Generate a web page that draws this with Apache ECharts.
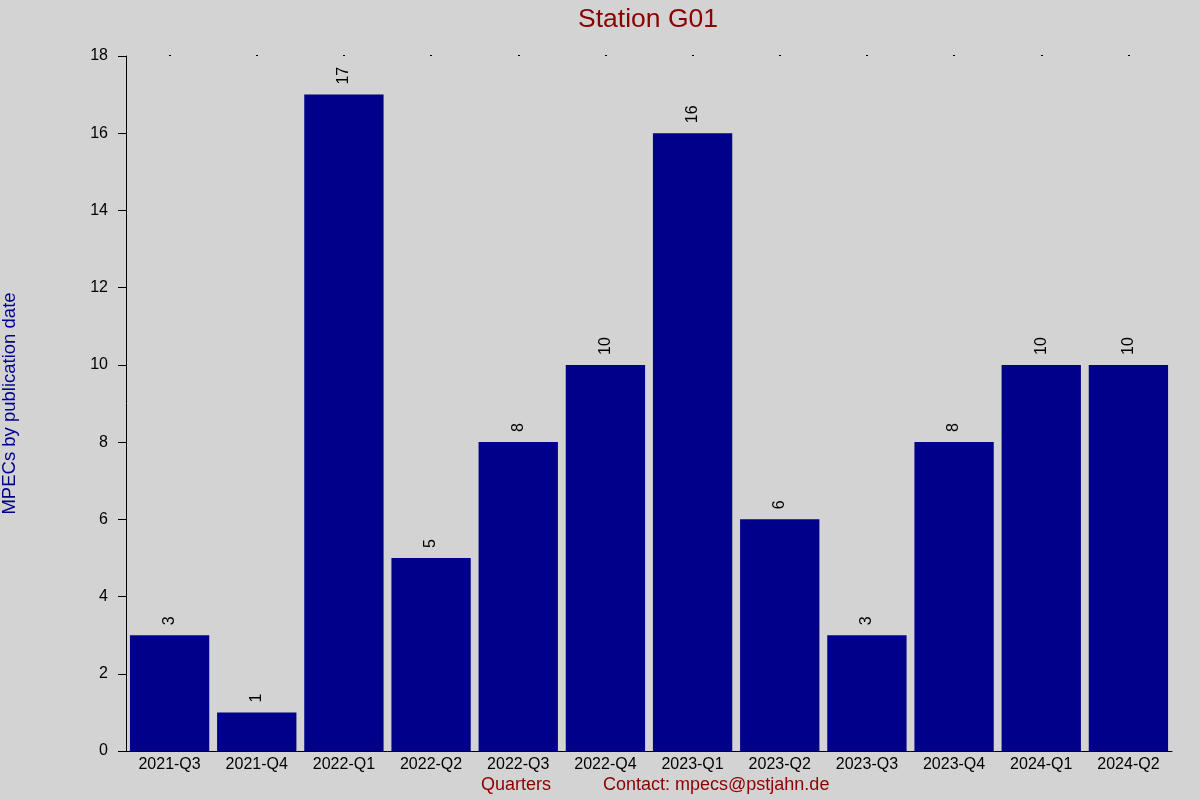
<!DOCTYPE html>
<html>
<head>
<meta charset="utf-8">
<script src="https://cdn.jsdelivr.net/npm/echarts@6/dist/echarts.min.js"></script>
<style>
html,body{margin:0;padding:0;background:#d3d3d3;}
#chart{width:1200px;height:800px;}
</style>
</head>
<body>
<div id="chart"></div>
<script>
const categories = ['2021-Q3','2021-Q4','2022-Q1','2022-Q2','2022-Q3','2022-Q4','2023-Q1','2023-Q2','2023-Q3','2023-Q4','2024-Q1','2024-Q2'];
const values = [3,1,17,5,8,10,16,6,3,8,10,10];
const yTicks = {min:0, max:18, interval:2};
const titleText = 'Station G01';
const yName = 'MPECs by publication date';
const xName = 'Quarters';
const contactText = 'Contact: mpecs@pstjahn.de';

const FONT = 'Liberation Sans, Arial, sans-serif';
const chart = echarts.init(document.getElementById('chart'), null, {renderer:'canvas'});
chart.setOption({
  backgroundColor:'#d3d3d3',
  animation:false,
  textStyle:{fontFamily:FONT},
  title:[
    {text:titleText, left:648, top:6, textAlign:'center', padding:0,
     textStyle:{color:'#8b0000', fontSize:26.5, fontWeight:'normal', fontFamily:FONT}},
    {text:xName, left:516, top:776, textAlign:'center', padding:0,
     textStyle:{color:'#8b0000', fontSize:18, fontWeight:'normal', fontFamily:FONT}},
    {text:contactText, left:603, top:776, padding:0,
     textStyle:{color:'#8b0000', fontSize:18, fontWeight:'normal', fontFamily:FONT}}
  ],
  grid:{left:126, right:28, top:56, bottom:49, containLabel:false, outerBoundsMode:'none'},
  xAxis:[
    {type:'category', data:categories, position:'bottom',
     axisLine:{show:true, lineStyle:{color:'#000', width:1}},
     axisTick:{show:false},
     axisLabel:{color:'#000', fontSize:16, margin:6, fontFamily:FONT, interval:0},
     splitLine:{show:false}},
    {type:'category', data:categories, position:'top',
     axisLine:{show:false},
     axisTick:{show:true, alignWithLabel:true, length:1, lineStyle:{color:'#000', width:2}},
     axisLabel:{show:false},
     splitLine:{show:false}}
  ],
  yAxis:{
    type:'value', min:yTicks.min, max:yTicks.max, interval:yTicks.interval,
    name:yName, nameLocation:'middle', nameGap:107, nameRotate:90,
    nameTextStyle:{color:'#00008b', fontSize:18.5, fontFamily:FONT},
    axisLine:{show:true, lineStyle:{color:'#000', width:1}},
    axisTick:{show:true, inside:false, length:8, lineStyle:{color:'#000'}},
    axisLabel:{color:'#000', fontSize:16, margin:18, fontFamily:FONT},
    splitLine:{show:false}
  },
  series:[{
    type:'bar', data:values, xAxisIndex:0,
    barCategoryGap:'9%',
    itemStyle:{color:'#00008b'},
    label:{show:true, position:'top', rotate:90, align:'left', verticalAlign:'middle',
      distance:10, color:'#000', fontSize:16, fontFamily:FONT}
  }]
});
</script>
</body>
</html>
